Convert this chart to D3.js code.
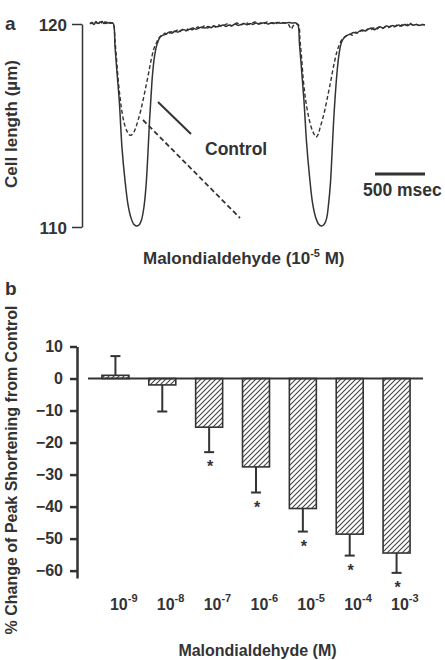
<!DOCTYPE html>
<html><head><meta charset="utf-8">
<script src="https://cdn.jsdelivr.net/npm/d3@7"></script>
<style>
body{margin:0;background:#fff;}
svg{display:block;}
text{font-family:"Liberation Sans",Arial,Helvetica,sans-serif;font-weight:bold;fill:#333;}
</style></head>
<body>
<script>
// ---------- Panel a data: cell length traces ----------
const controlTime = [0,20,40,60,80,100,120,140,160,180,200,220,235,250,270,293,320,350,380,410,440,465,490,515,540,560,578,595,610,625,645,670,700,730,760,790,820,850,880,910,940,970,1000,1030,1060,1090,1120,1150,1180,1210,1240,1270,1300,1330,1360,1390,1420,1450,1480,1510,1540,1570,1600,1630,1660,1690,1720,1750,1780,1810,1840,1870,1900,1930,1960,1990,2020,2060,2080,2095,2115,2140,2165,2195,2225,2255,2285,2315,2340,2365,2385,2405,2420,2435,2450,2470,2490,2515,2545,2575,2605,2635,2665,2695,2725,2755,2785,2815,2845,2875,2905,2935,2965,2995,3025,3055,3085,3115,3145,3175,3205,3235,3265,3295,3325,3350];
const controlLength = [120.0,120.05,119.98,120.1,120.02,120.08,120.12,120.03,120.1,120.05,120.07,120.05,120.0,118.9,117.6,116.2,113.9,112.3,111.1,110.45,110.12,110.05,110.1,110.35,111.0,112.0,113.5,115.2,116.4,117.5,118.4,119.0,119.35,119.45,119.5,119.6,119.55,119.65,119.6,119.7,119.72,119.68,119.75,119.8,119.74,119.8,119.85,119.8,119.88,119.82,119.9,119.86,119.9,119.95,119.88,119.95,119.92,120.0,119.93,119.98,120.02,119.96,120.03,119.98,120.05,120.0,120.04,120.06,120.0,120.05,120.03,120.08,120.04,120.06,120.05,120.07,120.05,120.05,119.95,119.0,117.8,116.2,114.2,112.5,111.2,110.5,110.15,110.05,110.12,110.4,111.1,112.2,113.6,115.1,116.3,117.6,118.5,119.1,119.35,119.45,119.5,119.58,119.55,119.65,119.7,119.66,119.75,119.8,119.72,119.82,119.85,119.8,119.9,119.86,119.92,119.88,119.95,119.9,119.97,119.92,120.0,119.94,119.98,119.93,119.97,119.95];
const mdaTime = [0,20,40,60,80,100,120,140,160,180,200,220,235,250,265,283,300,317,340,367,390,410,433,460,483,508,533,558,583,600,617,640,667,695,720,750,780,810,840,870,900,930,960,990,1020,1050,1080,1110,1140,1170,1200,1230,1260,1290,1320,1350,1380,1410,1440,1470,1500,1530,1560,1590,1620,1650,1680,1710,1740,1770,1800,1830,1860,1890,1920,1950,1980,2000,2015,2030,2060,2085,2100,2115,2133,2155,2183,2210,2233,2260,2285,2300,2325,2350,2375,2400,2425,2450,2470,2493,2515,2535,2565,2595,2625,2655,2685,2715,2745,2775,2805,2835,2865,2895,2925,2955,2985,3015,3045,3075,3105,3135,3165,3195,3225,3255,3285,3315,3345];
const mdaLength = [120.02,120.08,120.0,120.12,119.98,120.1,120.05,120.12,120.02,120.08,120.04,120.06,120.0,119.2,118.3,117.2,116.4,115.76,115.15,114.75,114.55,114.52,114.62,114.93,115.3,115.75,116.3,116.9,117.5,117.95,118.35,118.8,119.1,119.35,119.45,119.55,119.48,119.62,119.58,119.7,119.62,119.75,119.66,119.8,119.72,119.78,119.85,119.76,119.9,119.8,119.86,119.92,119.84,119.95,119.88,119.96,120.02,119.9,119.97,120.05,119.95,120.0,120.08,119.98,120.04,120.1,120.0,120.06,120.02,120.1,120.03,120.07,120.02,120.08,120.04,120.06,120.0,119.85,119.75,119.9,120.0,119.95,119.2,118.4,117.25,116.3,115.5,114.95,114.65,114.43,114.6,114.88,115.3,115.8,116.4,117.0,117.65,118.25,118.65,118.97,119.2,119.32,119.42,119.5,119.45,119.6,119.55,119.68,119.62,119.75,119.7,119.8,119.74,119.85,119.78,119.88,119.82,119.92,119.86,119.96,119.9,120.02,119.94,120.05,119.95,120.0,119.93,119.98,119.95];
const cellLengthTicks = [110, 120];
const scaleBarMs = 500;

// ---------- Panel b data: bar chart ----------
const concentrations = ["-9","-8","-7","-6","-5","-4","-3"];
const pctChange = [1.0, -2.0, -15.2, -27.6, -40.6, -48.6, -54.5];
const errorEnd = [7.0, -10.3, -23.0, -35.6, -47.8, -55.3, -60.7];
const significant = [false, false, true, true, true, true, true];
const pctTicks = [10, 0, -10, -20, -30, -40, -50, -60];

const W = 445, H = 660;
const svg = d3.select("body").append("svg").attr("width", W).attr("height", H);
const ink = "#333";

// ===== Panel a =====
const xa = d3.scaleLinear().domain([0, 3350]).range([90, 425]);
const ya = d3.scaleLinear().domain([110, 120]).range([227, 24]);

svg.append("text").attr("x", 5).attr("y", 30).style("font-size", "19px").text("a");

const axA = svg.append("g").attr("transform", "translate(82,0)")
  .call(d3.axisLeft(ya).tickValues(cellLengthTicks).tickSize(10).tickSizeOuter(0).tickPadding(5).tickFormat(d3.format("d")));
axA.select(".domain").attr("stroke", ink).attr("stroke-width", 1.5);
axA.selectAll(".tick line").attr("stroke", ink).attr("stroke-width", 1.5);
axA.selectAll(".tick text").style("font-size", "17px").attr("fill", ink).attr("dy", "0.36em").attr("font-family", null);

const lineA = d3.line().x(d => xa(d[0])).y(d => ya(d[1])).curve(d3.curveCatmullRom.alpha(0.5));
const ctrl = controlTime.map((t, i) => [t, controlLength[i]]);
const mda = mdaTime.map((t, i) => [t, mdaLength[i]]);
svg.append("path").datum(ctrl).attr("d", lineA).attr("fill", "none").attr("stroke", ink).attr("stroke-width", 1.5);
svg.append("path").datum(mda).attr("d", lineA).attr("fill", "none").attr("stroke", ink).attr("stroke-width", 1.4).attr("stroke-dasharray", "4,2.5");

// legend lines
svg.append("line").attr("x1", 158).attr("y1", 102).attr("x2", 191).attr("y2", 134).attr("stroke", ink).attr("stroke-width", 2);
svg.append("line").attr("x1", 143).attr("y1", 120).attr("x2", 240).attr("y2", 218).attr("stroke", ink).attr("stroke-width", 1.8).attr("stroke-dasharray", "5,3");
svg.append("text").attr("x", 205).attr("y", 155).style("font-size", "17.5px").text("Control");

// scale bar
svg.append("line").attr("x1", xa(2850)).attr("x2", xa(2850 + scaleBarMs)).attr("y1", 174).attr("y2", 174).attr("stroke", ink).attr("stroke-width", 3);
svg.append("text").attr("x", 363).attr("y", 196).style("font-size", "17.5px").text(scaleBarMs + " msec");

// y title
svg.append("text").attr("transform", "translate(17,124) rotate(-90)").attr("text-anchor", "middle").style("font-size", "17px").text("Cell length (\u00b5m)");

// x label
const mt = svg.append("text").attr("x", 143).attr("y", 264).style("font-size", "17px");
mt.append("tspan").text("Malondialdehyde (10");
mt.append("tspan").attr("dy", -7).style("font-size", "11px").text("-5");
mt.append("tspan").attr("dy", 7).text(" M)");

// ===== Panel b =====
svg.append("text").attr("x", 5).attr("y", 295).style("font-size", "19px").text("b");

const yb = d3.scaleLinear().domain([-62.3, 10]).range([578, 346.5]);
const xb = d3.scaleBand().domain(concentrations).range([92, 420]).paddingInner(0.424).paddingOuter(0.212);

const defs = svg.append("defs");
const pat = defs.append("pattern").attr("id", "hatch").attr("patternUnits", "userSpaceOnUse").attr("width", 5).attr("height", 5);
pat.append("rect").attr("width", 5).attr("height", 5).attr("fill", "#fff");
pat.append("path").attr("d", "M-1,1 L1,-1 M0,5 L5,0 M4,6 L6,4").attr("stroke", "#444").attr("stroke-width", 1.1);

const axB = svg.append("g").attr("transform", "translate(77,0)")
  .call(d3.axisLeft(yb).tickValues(pctTicks).tickSize(7).tickSizeOuter(0).tickPadding(7).tickFormat(d3.format("d")));
axB.select(".domain").attr("stroke", ink).attr("stroke-width", 2.5);
axB.selectAll(".tick line").attr("stroke", ink).attr("stroke-width", 2.5);
axB.selectAll(".tick text").style("font-size", "16px").attr("fill", ink).attr("font-family", null);

const bars = svg.append("g");
concentrations.forEach((c, i) => {
  const v = pctChange[i];
  const x0 = xb(c), bw = xb.bandwidth(), cx = x0 + bw / 2;
  const yTop = yb(Math.max(0, v)), yBot = yb(Math.min(0, v));
  // error bar
  bars.append("line").attr("x1", cx).attr("x2", cx).attr("y1", yb(v)).attr("y2", yb(errorEnd[i])).attr("stroke", ink).attr("stroke-width", 2);
  bars.append("line").attr("x1", cx - 5).attr("x2", cx + 5).attr("y1", yb(errorEnd[i])).attr("y2", yb(errorEnd[i])).attr("stroke", ink).attr("stroke-width", 2);
  bars.append("rect").attr("x", x0).attr("y", yTop).attr("width", bw).attr("height", yBot - yTop)
    .attr("fill", "url(#hatch)").attr("stroke", ink).attr("stroke-width", 1.6);
  if (significant[i]) {
    bars.append("text").attr("x", cx + 1).attr("y", yb(errorEnd[i]) + 20).attr("text-anchor", "middle").style("font-size", "16px").text("*");
  }
  const tl = bars.append("text").attr("x", cx - 5.5).attr("y", 610).style("font-size", "16px");
  tl.append("tspan").text("10");
  tl.append("tspan").attr("dy", -8).style("font-size", "11px").text(c);
});

// zero line
svg.append("line").attr("x1", 88).attr("x2", 423).attr("y1", yb(0)).attr("y2", yb(0)).attr("stroke", ink).attr("stroke-width", 2);

svg.append("text").attr("transform", "translate(17,470) rotate(-90)").attr("text-anchor", "middle").style("font-size", "16px").text("% Change of Peak Shortening from Control");
svg.append("text").attr("x", 257.5).attr("y", 656).attr("text-anchor", "middle").style("font-size", "16px").text("Malondialdehyde (M)");
</script>
</body></html>
